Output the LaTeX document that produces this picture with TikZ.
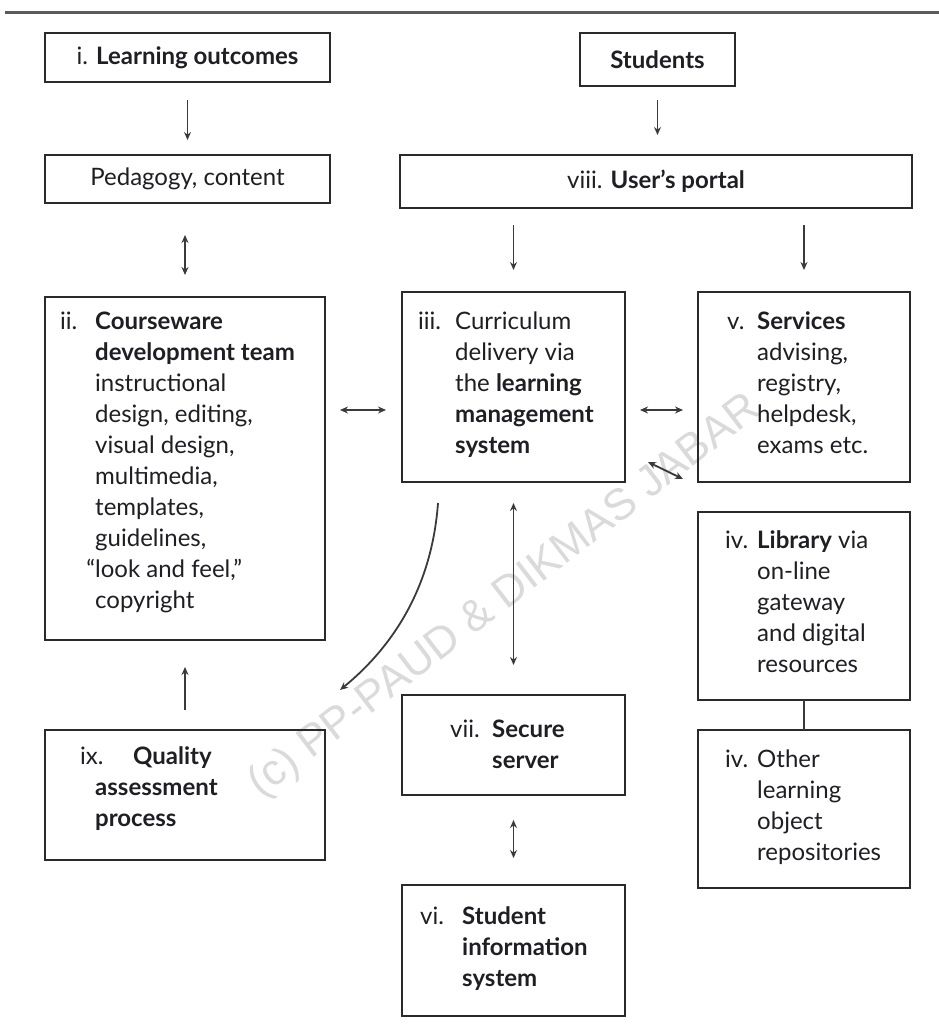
\documentclass[tikz,border=0pt]{standalone}
\usepackage{fontspec}
\setmainfont{Lato}
\newfontfamily\wmfont{Liberation Sans}
\usetikzlibrary{arrows.meta}
\definecolor{boxc}{HTML}{2A2A2A}
\definecolor{arrc}{HTML}{3A3A3A}
\definecolor{txtc}{HTML}{1E1E24}
\definecolor{wmc}{HTML}{DADADA}
\definecolor{rulec}{HTML}{5A5A5A}
\newcommand\lab[2]{\llap{\makebox[#1][l]{#2}}}
\newcommand\tb[1]{\begin{tabular}[t]{@{}l@{}}#1\end{tabular}}
\begin{document}
\begin{tikzpicture}[x=1pt,y=-1pt,
 box/.style={draw=boxc, line width=2.4pt, inner sep=0pt, outer sep=0pt, anchor=north west},
 lbl/.style={font=\fontsize{24}{31}\selectfont, text=txtc},
 txt/.style={lbl, inner sep=0pt, anchor=base west},
 arr/.style={draw=arrc, line width=1.8pt, -{Stealth[length=8pt,width=7pt]}},
 darr/.style={draw=arrc, line width=1.8pt, {Stealth[length=8pt,width=7pt]}-{Stealth[length=8pt,width=7pt]}},
 plain/.style={draw=arrc, line width=1.8pt},
]
\useasboundingbox (0,0) rectangle (939,1030);
% watermark
\node[rotate=37.5, font=\wmfont\fontsize{44}{44}\selectfont, text=wmc] (wm) at (505,597) {(c) PP-PAUD \& DIKMAS JABAR};
% top rule
\coordinate (r1) at (5,13);
\coordinate (r2) at (939,13);
\draw[draw=rulec, line width=3pt] (r1) -- (r2);

% single-line boxes
\node[box, lbl, minimum width=285pt, minimum height=49pt] (lo) at (45,33) {i. \textbf{Learning outcomes}};
\node[box, lbl, minimum width=155pt, minimum height=53pt] (stu) at (580,33) {\textbf{Students}};
\node[box, lbl, minimum width=285pt, minimum height=48pt] (ped) at (45,155) {Pedagogy, content};
\node[box, lbl, minimum width=512pt, minimum height=53pt] (portal) at (400,155) {viii. \textbf{User’s portal}};

% multi-line boxes
\node[box, minimum width=280pt, minimum height=343pt] (ii) at (45,297) {};
\node[box, minimum width=223pt, minimum height=190pt] (iii) at (402,292) {};
\node[box, minimum width=212pt, minimum height=190pt] (v) at (698,292) {};
\node[box, minimum width=212pt, minimum height=188pt] (lib) at (698,512) {};
\node[box, minimum width=212pt, minimum height=158pt] (oth) at (698,730) {};
\node[box, minimum width=280pt, minimum height=130pt] (ix) at (45,730) {};
\node[box, minimum width=223pt, minimum height=100pt] (vii) at (402,695) {};
\node[box, minimum width=223pt, minimum height=131pt] (vi) at (402,885) {};

% texts
\node[txt] (ii-t) at (95,329) {\tb{\lab{35pt}{ii.}\textbf{Courseware}\\ \textbf{development team}\\ instructional\\ design, editing,\\ visual design,\\ multimedia,\\ templates,\\ guidelines,\\ \llap{“}look and feel,”\\ copyright}};
\node[txt] (iii-t) at (455,329) {\tb{\lab{37pt}{iii.}Curriculum\\ delivery via\\ the \textbf{learning}\\ \textbf{management}\\ \textbf{system}}};
\node[txt] (v-t) at (757,329) {\tb{\lab{30pt}{v.}\textbf{Services}\\ advising,\\ registry,\\ helpdesk,\\ exams etc.}};
\node[txt] (lib-t) at (757,548) {\tb{\lab{32pt}{iv.}\textbf{Library} via\\ on-line\\ gateway\\ and digital\\ resources}};
\node[txt] (oth-t) at (757,767) {\tb{\lab{32pt}{iv.}Other\\ learning\\ object\\ repositories}};
\node[txt] (ix-t) at (95,764) {\tb{\lab{15pt}{ix.}\hspace{38pt}\textbf{Quality}\\ \textbf{assessment}\\ \textbf{process}}};
\node[txt] (vii-t) at (492,737) {\tb{\lab{42pt}{vii.}\textbf{Secure}\\ \textbf{server}}};
\node[txt] (vi-t) at (462,924) {\tb{\lab{42pt}{vi.}\textbf{Student}\\ \textbf{information}\\ \textbf{system}}};

% connectors
\draw[arr, shorten <=18pt, shorten >=15pt] (lo.south) -- (lo.south |- ped.north);
\draw[arr, shorten <=14pt, shorten >=20pt] (stu.south) -- (stu.south |- portal.north);
\draw[darr, shorten <=32pt, shorten >=22pt] (ped.south -| ii.north) -- (ii.north);
\draw[arr, shorten <=17pt, shorten >=22pt] (iii.north |- portal.south) -- (iii.north);
\draw[arr, shorten <=17pt, shorten >=22pt] (v.north |- portal.south) -- (v.north);
\coordinate (hy) at (0,410);
\draw[darr, shorten <=15pt, shorten >=16pt] (ii.east |- hy) -- (iii.west |- hy);
\draw[darr, shorten <=15pt, shorten >=15pt] (iii.east |- hy) -- (v.west |- hy);
\coordinate (d1) at (648,462);
\coordinate (d2) at (683,479);
\draw[darr] (d1) -- (d2);
\draw[darr, shorten <=21pt, shorten >=30pt] (iii.south) -- (iii.south |- vii.north);
\draw[darr, shorten <=25pt, shorten >=27pt] (vii.south) -- (vii.south |- vi.north);
\draw[arr, shorten <=20pt, shorten >=27pt] (ix.north) -- (ix.north |- ii.south);
\draw[plain] (lib.south) -- (oth.north);
\coordinate (c1) at (438,503);
\coordinate (c2) at (340,690);
\draw[arr] (c1) .. controls (432,585) and (395,645) .. (c2);
\end{tikzpicture}
\end{document}
